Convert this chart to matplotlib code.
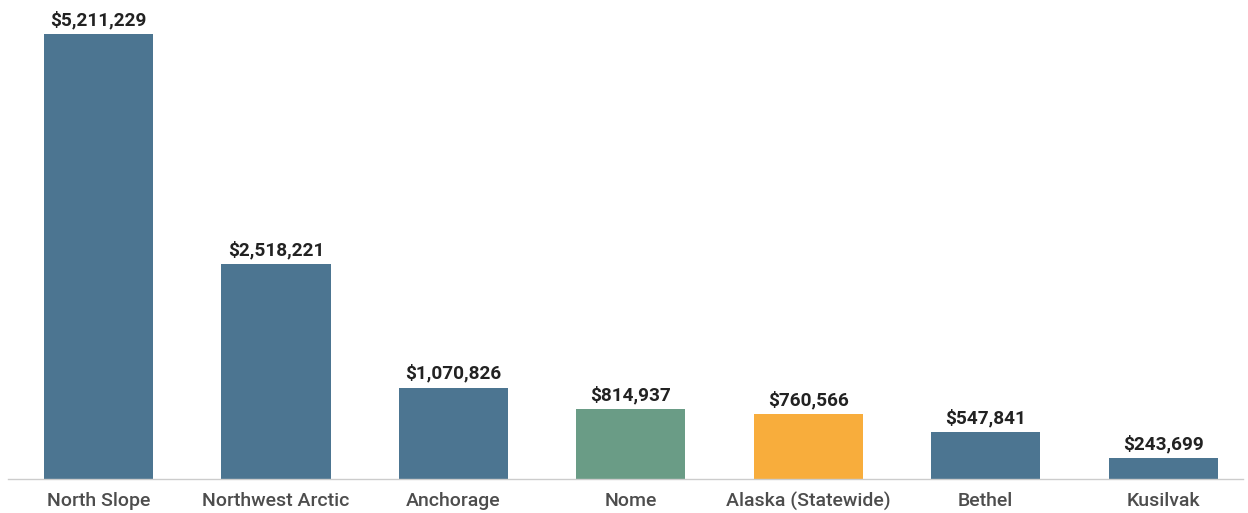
import matplotlib.pyplot as plt

regions = ['North Slope', 'Northwest Arctic', 'Anchorage', 'Nome',
           'Alaska (Statewide)', 'Bethel', 'Kusilvak']
amounts = [5211229, 2518221, 1070826, 814937, 760566, 547841, 243699]
colors = ['#4c7591', '#4c7591', '#4c7591', '#6a9c86',
          '#f8ad3c', '#4c7591', '#4c7591']


def draw_chart(filename='out.png'):
    plt.rcParams['font.family'] = ['Roboto', 'DejaVu Sans']
    fig = plt.figure(figsize=(12.48, 5.13), dpi=100)
    ax = fig.add_axes([8 / 1248, 34 / 513, 1235 / 1248, 479 / 513])

    x = range(len(regions))
    bars = ax.bar(x, amounts, width=0.615, color=colors, zorder=2)
    for bar, amount in zip(bars, amounts):
        ax.annotate(f'${amount:,}', (bar.get_x() + bar.get_width() / 2, amount),
                    xytext=(0, 3.5), textcoords='offset points',
                    ha='center', va='bottom', fontsize=13.7, fontweight='bold',
                    color='#222222')

    ax.set_xlim(-0.51, 6.45)
    ax.set_ylim(0, 5.61e6)
    ax.set_xticks(list(x))
    ax.set_xticklabels(regions, fontsize=14, fontweight='medium', color='#4d4d4d')
    ax.tick_params(axis='x', length=0, pad=9)
    ax.set_yticks([])
    for side in ('top', 'right', 'left'):
        ax.spines[side].set_visible(False)
    ax.spines['bottom'].set_color('#cccccc')
    ax.spines['bottom'].set_linewidth(1)

    fig.savefig(filename)
    plt.close(fig)
    return filename


if __name__ == '__main__':
    draw_chart()
